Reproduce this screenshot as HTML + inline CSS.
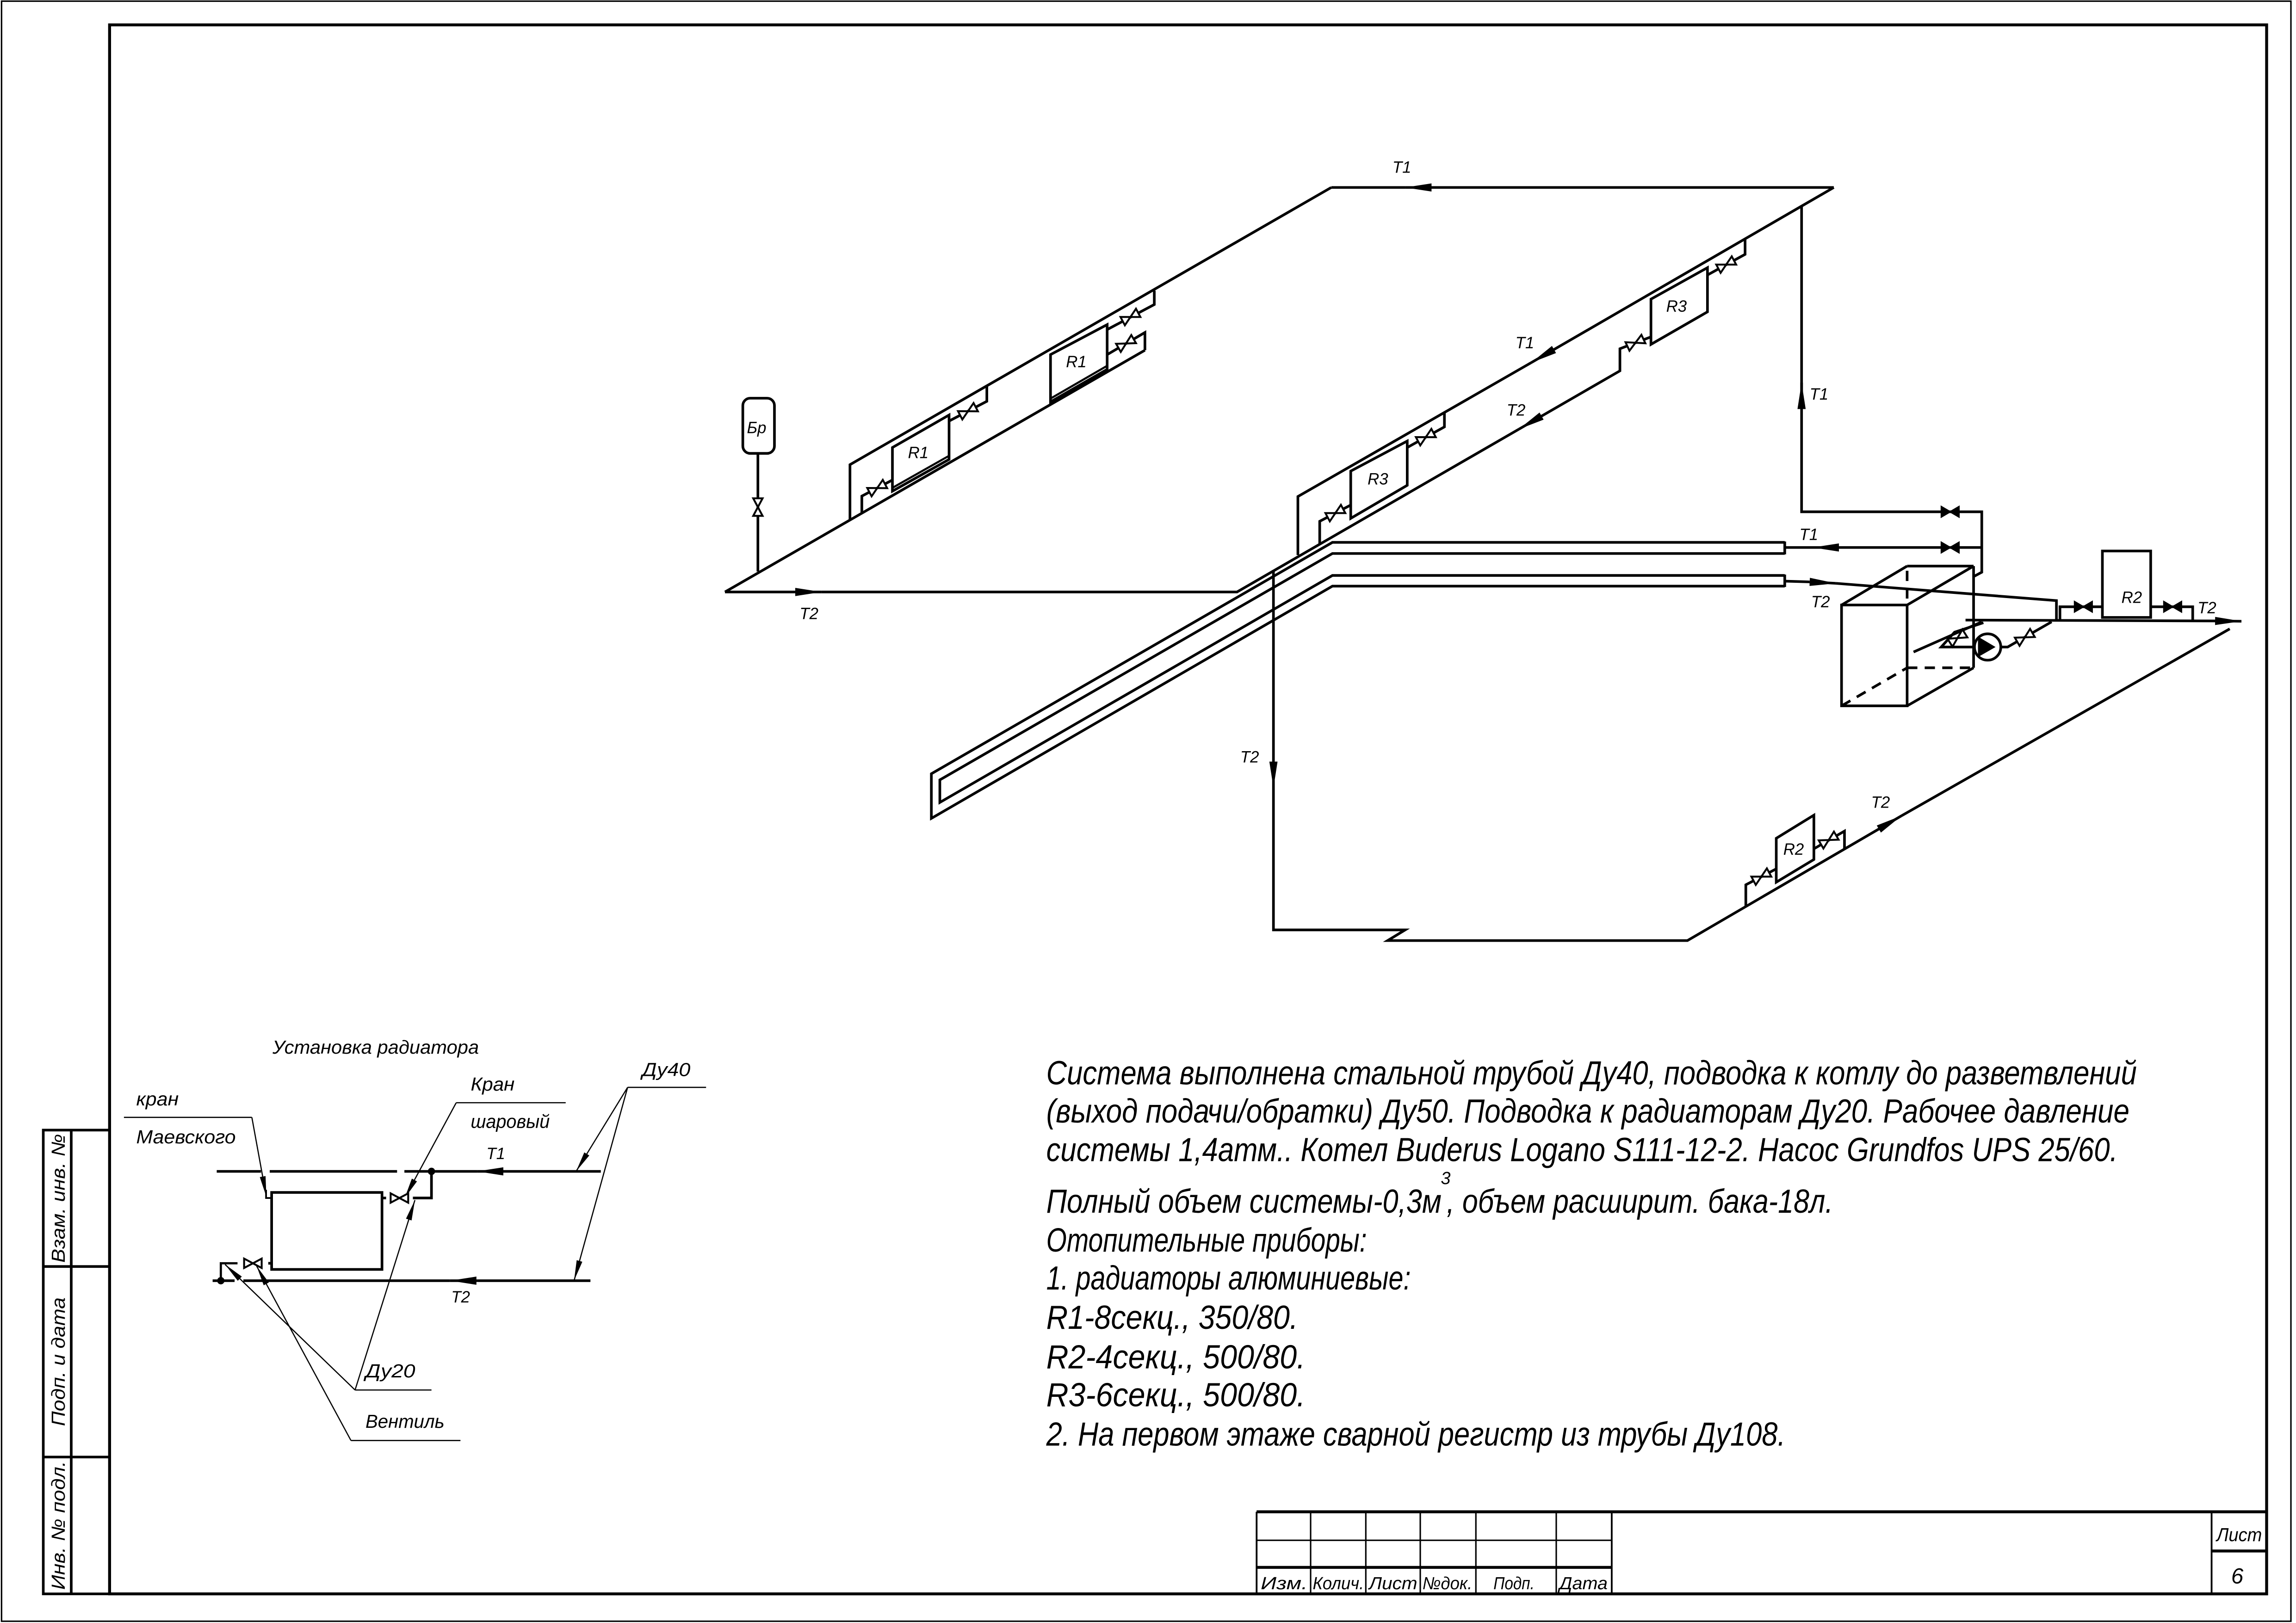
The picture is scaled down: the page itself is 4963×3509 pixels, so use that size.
<!DOCTYPE html>
<html><head><meta charset="utf-8">
<style>
html,body{margin:0;padding:0;background:#fff;}
svg{display:block;}
text{font-family:"Liberation Sans","DejaVu Sans",sans-serif;font-style:italic;fill:#000;}
</style></head>
<body>
<svg xmlns="http://www.w3.org/2000/svg" width="4963" height="3509" viewBox="0 0 1568 1109">
<defs>
<marker id="a" markerUnits="userSpaceOnUse" markerWidth="18" markerHeight="8" refX="18" refY="4" orient="auto"><path d="M0,1.2 L18,4 L0,6.8 Z" fill="#000"/></marker>
<marker id="s" markerUnits="userSpaceOnUse" markerWidth="14" markerHeight="6" refX="14" refY="3" orient="auto"><path d="M0,1 L14,3 L0,5 Z" fill="#000"/></marker>
<g id="vo"><path d="M-6,-3.2 L6,3.2 L6,-3.2 L-6,3.2 Z" fill="#fff" stroke="#000" stroke-width="1.3"/></g>
<g id="vf"><path d="M-6,-3.5 L6,3.5 L6,-3.5 L-6,3.5 Z" fill="#000" stroke="#000" stroke-width="1"/></g>
</defs>
<rect x="0" y="0" width="1568" height="1109" fill="#fff"/>
<rect x="0.8" y="0.8" width="1564" height="1107" fill="none" stroke="#000" stroke-width="1"/>
<rect x="74.6" y="17" width="1473.6" height="1072.1" fill="none" stroke="#000" stroke-width="2"/>
<g stroke="#000" stroke-width="1.8" fill="none">
<rect x="29.3" y="772.2" width="45.3" height="316.9"/>
<line x1="48.4" y1="772.2" x2="48.4" y2="1089.1"/>
<line x1="29.3" y1="865.4" x2="74.6" y2="865.4"/>
<line x1="29.3" y1="995.6" x2="74.6" y2="995.6"/>
</g>
<text transform="translate(44,818.8) rotate(-90)" font-size="13" text-anchor="middle" textLength="88" lengthAdjust="spacingAndGlyphs">Взам. инв. №</text>
<text transform="translate(44,930.5) rotate(-90)" font-size="13" text-anchor="middle" textLength="88" lengthAdjust="spacingAndGlyphs">Подп. и дата</text>
<text transform="translate(44,1042.3) rotate(-90)" font-size="13" text-anchor="middle" textLength="88" lengthAdjust="spacingAndGlyphs">Инв. № подл.</text>
<g stroke="#000" fill="none">
<line x1="858.2" y1="1033" x2="1548.2" y2="1033" stroke-width="2"/>
<line x1="858.2" y1="1033" x2="858.2" y2="1089" stroke-width="1.2"/>
<line x1="858.2" y1="1052.5" x2="1100.8" y2="1052.5" stroke-width="1"/>
<line x1="858.2" y1="1071" x2="1100.8" y2="1071" stroke-width="2"/>
<line x1="895.1" y1="1033" x2="895.1" y2="1089" stroke-width="1"/>
<line x1="932.8" y1="1033" x2="932.8" y2="1089" stroke-width="1"/>
<line x1="970" y1="1033" x2="970" y2="1089" stroke-width="1"/>
<line x1="1008" y1="1033" x2="1008" y2="1089" stroke-width="1"/>
<line x1="1062.9" y1="1033" x2="1062.9" y2="1089" stroke-width="1"/>
<line x1="1100.8" y1="1033" x2="1100.8" y2="1089" stroke-width="1.2"/>
<line x1="1510.6" y1="1033" x2="1510.6" y2="1089" stroke-width="1.2"/>
<line x1="1510.6" y1="1059.8" x2="1548.2" y2="1059.8" stroke-width="2"/>
</g>
<g font-size="12">
<text x="861" y="1086" textLength="32" lengthAdjust="spacingAndGlyphs">Изм.</text>
<text x="896.5" y="1086" textLength="35" lengthAdjust="spacingAndGlyphs">Колич.</text>
<text x="935" y="1086" textLength="33" lengthAdjust="spacingAndGlyphs">Лист</text>
<text x="971.5" y="1086" textLength="34" lengthAdjust="spacingAndGlyphs">№док.</text>
<text x="1020" y="1086" textLength="28" lengthAdjust="spacingAndGlyphs">Подп.</text>
<text x="1065" y="1086" textLength="33" lengthAdjust="spacingAndGlyphs">Дата</text>
<text x="1514" y="1053" font-size="13" textLength="31" lengthAdjust="spacingAndGlyphs">Лист</text>
<text x="1524" y="1082" font-size="15">6</text>
</g>

<g stroke="#000" stroke-width="1.8" fill="none" stroke-linejoin="miter">
<line x1="1252.5" y1="128.1" x2="977" y2="128.1"/>
<line x1="977" y1="128.1" x2="959.7" y2="128.1" marker-end="url(#a)"/>
<line x1="959.7" y1="128.1" x2="909.2" y2="128.1"/>
<polyline points="909.2,128.1 580.4,317.5 580.4,355"/>
<line x1="495" y1="404.5" x2="781.9" y2="239.3"/>
<line x1="495" y1="404.5" x2="543" y2="404.5"/>
<line x1="543" y1="404.5" x2="561" y2="404.5" marker-end="url(#a)"/>
<polyline points="561,404.5 844.8,404.5 1037.3,293.3"/>
<line x1="1050.3" y1="285.8" x2="1037.3" y2="293.3" marker-end="url(#a)"/>
<polyline points="1050.3,285.8 1106.4,253.4 1106.4,238.3 1127.6,230.2"/>
<polygon points="609.4,305.8 648.1,283.6 648.1,313.9 609.4,335.6"/>
<line x1="610" y1="333" x2="648" y2="311.5" stroke-width="1.4"/>
<polyline points="673.9,263.5 673.9,274.2 648.1,287.7"/>
<polyline points="609.4,328 588.5,339 588.5,350.6"/>
<polygon points="717.4,242.3 756.1,221.8 756.1,252.4 717.4,274.6"/>
<line x1="718" y1="272" x2="756" y2="250" stroke-width="1.4"/>
<polyline points="788.3,198.6 788.3,208.1 756.1,225.2"/>
<polyline points="756.1,242.3 781.9,227.2 781.9,239.3"/>
<rect x="507.2" y="272.1" width="21.6" height="37.7" rx="5"/>
<line x1="517.5" y1="309.8" x2="517.5" y2="390.5"/>
<line x1="1252.5" y1="128.1" x2="1058.8" y2="240.3"/>
<line x1="1058.8" y1="240.3" x2="1045.8" y2="247.8" marker-end="url(#a)"/>
<polyline points="1045.8,247.8 886.4,339.3 886.4,379.3"/>
<polygon points="1127.6,204.4 1166.2,182.9 1166.2,213.1 1127.6,235.3"/>
<polyline points="1191.9,163 1191.9,173.8 1166.2,187.9"/>
<polygon points="922.5,321.9 961.1,301.4 961.1,331.6 922.5,354.2"/>
<polyline points="986.5,281.6 986.5,291.7 961.1,305.8"/>
<polyline points="922.5,345.1 901.3,356.2 901.3,371.8"/>
<line x1="1230.5" y1="140.6" x2="1230.5" y2="279"/>
<line x1="1230.5" y1="279" x2="1230.5" y2="261.5" marker-end="url(#a)"/>
<polyline points="1230.5,261.5 1230.5,349.7 1353.6,349.7 1353.6,391 1348,394"/>
<polyline points="1219,370.6 910,370.6 636,528.7 636,559.2 910,400.5 1219,400.5"/>
<polyline points="1219,378.2 910,378.2 641.8,532.9 641.8,548.3 910,393.2 1219,393.2"/>
<line x1="1219" y1="370" x2="1219" y2="378.8"/>
<line x1="1219" y1="392.6" x2="1219" y2="401.1"/>
<line x1="1219.4" y1="374.1" x2="1238" y2="374.1"/>
<line x1="1255" y1="374.1" x2="1238" y2="374.1" marker-end="url(#a)"/>
<line x1="1255" y1="374.1" x2="1353.6" y2="374.1"/>
<line x1="1219.4" y1="397.1" x2="1236" y2="397.6"/>
<line x1="1236" y1="397.6" x2="1254" y2="398.6" marker-end="url(#a)"/>
<polyline points="1254,398.6 1404.6,410.4 1404.6,423.7"/>
<line x1="1342.5" y1="423.7" x2="1512" y2="424.3"/>
<line x1="1512" y1="424.3" x2="1531" y2="424.5" marker-end="url(#a)"/>
<line x1="1307" y1="445.5" x2="1353.6" y2="424.9"/>
<rect x="1436" y="376.5" width="33" height="45.4"/>
<polyline points="1407,423.7 1407,414.6 1436,414.6"/>
<polyline points="1469,414.6 1497.7,414.6 1497.7,423.7"/>
<rect x="1257.8" y="413.4" width="44.8" height="68.9"/>
<line x1="1257.8" y1="413.4" x2="1302.6" y2="386.8"/>
<line x1="1302.6" y1="413.4" x2="1348" y2="386.8"/>
<line x1="1302.6" y1="386.8" x2="1348" y2="386.8"/>
<line x1="1348" y1="386.8" x2="1348" y2="456.3"/>
<line x1="1302.6" y1="482.3" x2="1348" y2="456.3"/>
<polyline points="1350,442.1 1325.9,442.1 1335,432 1354.7,425.5"/>
<polyline points="1366,442.1 1371.3,442.1 1401.3,424.9"/>
<line x1="869.7" y1="390" x2="869.7" y2="521"/>
<line x1="869.7" y1="521" x2="869.7" y2="538.4" marker-end="url(#a)"/>
<polyline points="869.7,538.4 869.7,635.4 959.7,635.4 947.7,642.7 1152.5,642.7 1285.8,565"/>
<line x1="1285.8" y1="565" x2="1298.8" y2="557.4" marker-end="url(#a)"/>
<line x1="1298.8" y1="557.4" x2="1523" y2="429.7"/>
<polygon points="1213.2,572.8 1238.9,557 1238.9,587.3 1213.2,602.8"/>
<polyline points="1238.9,580 1259.8,567.9 1259.8,580.1"/>
<polyline points="1213.2,593.7 1192.4,604.6 1192.4,619.8"/>
</g>
<g stroke="#000" stroke-width="1.8" fill="none" stroke-dasharray="7,5">
<line x1="1302.6" y1="390" x2="1302.6" y2="413"/>
<line x1="1302.6" y1="456.3" x2="1348" y2="456.3"/>
<line x1="1257.8" y1="482.3" x2="1302.6" y2="456.3"/>
</g>
<circle cx="1357.6" cy="442.1" r="9" fill="#fff" stroke="#000" stroke-width="1.8"/>
<path d="M1351,435 L1351,449 L1363,442.1 Z" fill="#000"/>
<use href="#vo" transform="translate(661,281) rotate(-27.6)"/>
<use href="#vo" transform="translate(599,333.5) rotate(-27.7)"/>
<use href="#vo" transform="translate(772,216.6) rotate(-28)"/>
<use href="#vo" transform="translate(769,234.7) rotate(-30)"/>
<use href="#vo" transform="translate(1179,180.8) rotate(-28)"/>
<use href="#vo" transform="translate(1117,234.2) rotate(-25)"/>
<use href="#vo" transform="translate(973.8,298.7) rotate(-28)"/>
<use href="#vo" transform="translate(912,350.6) rotate(-28)"/>
<use href="#vo" transform="translate(1249,574) rotate(-30)"/>
<use href="#vo" transform="translate(1203,599) rotate(-28)"/>
<use href="#vo" transform="translate(1337,436) rotate(-32)"/>
<use href="#vo" transform="translate(1383,435.5) rotate(-30)"/>
<use href="#vo" transform="translate(517.5,346.5) rotate(90)"/>
<use href="#vf" transform="translate(1332,349.7)"/>
<use href="#vf" transform="translate(1332,374.1)"/>
<use href="#vf" transform="translate(1423,414.6)"/>
<use href="#vf" transform="translate(1484,414.6)"/>
<g font-size="11">
<text x="951" y="118">T1</text>
<text x="1035" y="238">T1</text>
<text x="1029" y="284">T2</text>
<text x="1236" y="273">T1</text>
<text x="1229" y="369">T1</text>
<text x="1237" y="415">T2</text>
<text x="1501" y="419">T2</text>
<text x="546" y="423">T2</text>
<text x="847" y="521">T2</text>
<text x="1278" y="552">T2</text>
<text x="620" y="313">R1</text>
<text x="728" y="251">R1</text>
<text x="1138" y="213">R3</text>
<text x="934" y="331">R3</text>
<text x="1449" y="412">R2</text>
<text x="1218" y="584">R2</text>
<text x="510" y="296" font-size="11">Бр</text>
</g>

<g stroke="#000" fill="none">
<line x1="147.8" y1="800.4" x2="178" y2="800.4" stroke-width="1.8"/>
<line x1="184" y1="800.4" x2="271" y2="800.4" stroke-width="1.8"/>
<line x1="276" y1="800.4" x2="325.6" y2="800.4" stroke-width="1.8"/>
<line x1="342.5" y1="800.4" x2="325.6" y2="800.4" stroke-width="1.8" marker-end="url(#a)"/>
<line x1="342.5" y1="800.4" x2="410.2" y2="800.4" stroke-width="1.8"/>
<rect x="185.3" y="814.8" width="75.4" height="52.6" stroke-width="1.8"/>
<polyline points="181.5,813 181.5,818.6 185.3,818.6" stroke-width="1.2"/>
<polyline points="281.8,818.6 294.5,818.6 294.5,800.4" stroke-width="1.8"/>
<line x1="260.7" y1="818.6" x2="263.5" y2="818.6" stroke-width="1.8"/>
<line x1="145" y1="875.1" x2="160" y2="875.1" stroke-width="1.8"/>
<line x1="166" y1="875.1" x2="307.2" y2="875.1" stroke-width="1.8"/>
<line x1="325.6" y1="875.1" x2="307.2" y2="875.1" stroke-width="1.8" marker-end="url(#a)"/>
<line x1="325.6" y1="875.1" x2="403.1" y2="875.1" stroke-width="1.8"/>
<polyline points="150.6,875.1 150.6,863.2 162,863.2" stroke-width="1.5"/>
<line x1="183" y1="863.2" x2="185.3" y2="863.2" stroke-width="1.8"/>
<g stroke-width="0.8">
<line x1="84.4" y1="763.5" x2="171.8" y2="763.5"/>
<line x1="171.8" y1="763.5" x2="181.7" y2="817.7" marker-end="url(#s)"/>
<line x1="311.4" y1="753.5" x2="386.2" y2="753.5"/>
<line x1="311.4" y1="753.5" x2="276.2" y2="818.6" marker-end="url(#s)"/>
<line x1="428.5" y1="743" x2="482.1" y2="743"/>
<line x1="428.5" y1="743" x2="393.3" y2="800.4" marker-end="url(#s)"/>
<line x1="428.5" y1="743" x2="391.9" y2="875.1" marker-end="url(#s)"/>
<line x1="242.3" y1="949.8" x2="294.5" y2="949.8"/>
<line x1="242.3" y1="949.8" x2="283.2" y2="820" marker-end="url(#s)"/>
<line x1="242.3" y1="949.8" x2="153.5" y2="864" marker-end="url(#s)"/>
<line x1="239.5" y1="984.3" x2="314.3" y2="984.3"/>
<line x1="239.5" y1="984.3" x2="175" y2="865" marker-end="url(#s)"/>
</g>
</g>
<use href="#vo" transform="translate(272.6,818.6)"/>
<use href="#vo" transform="translate(172.5,863.2)"/>
<circle cx="294.5" cy="800.4" r="2.5" fill="#000"/>
<circle cx="150.6" cy="875.1" r="2.5" fill="#000"/>
<g font-size="13">
<text x="185.9" y="720" textLength="141" lengthAdjust="spacingAndGlyphs">Установка радиатора</text>
<text x="92.8" y="755.4" textLength="29" lengthAdjust="spacingAndGlyphs">кран</text>
<text x="92.8" y="781.3" textLength="68" lengthAdjust="spacingAndGlyphs">Маевского</text>
<text x="321.3" y="745.3" textLength="30" lengthAdjust="spacingAndGlyphs">Кран</text>
<text x="321.3" y="770.7" textLength="54" lengthAdjust="spacingAndGlyphs">шаровый</text>
<text x="438.4" y="735.3" textLength="33" lengthAdjust="spacingAndGlyphs">Ду40</text>
<text x="249.4" y="941.2" textLength="34" lengthAdjust="spacingAndGlyphs">Ду20</text>
<text x="249.4" y="975.6" textLength="54" lengthAdjust="spacingAndGlyphs">Вентиль</text>
</g>
<g font-size="11">
<text x="332" y="792">T1</text>
<text x="308" y="890">T2</text>
</g>

<g font-size="23">
<text x="714.5" y="741" textLength="745" lengthAdjust="spacingAndGlyphs">Система выполнена стальной трубой Ду40, подводка к котлу до разветвлений</text>
<text x="714.5" y="767" textLength="740" lengthAdjust="spacingAndGlyphs">(выход подачи/обратки) Ду50. Подводка к радиаторам Ду20. Рабочее давление</text>
<text x="714.5" y="793.4" textLength="732" lengthAdjust="spacingAndGlyphs">системы 1,4атм.. Котел Buderus Logano S111-12-2. Насос Grundfos UPS 25/60.</text>
<text x="714.5" y="828.6" textLength="270" lengthAdjust="spacingAndGlyphs">Полный объем системы-0,3м</text>
<text x="984" y="809" font-size="12">3</text>
<text x="988" y="828.6" textLength="264" lengthAdjust="spacingAndGlyphs">, объем расширит. бака-18л.</text>
<text x="714.5" y="855.2" textLength="219" lengthAdjust="spacingAndGlyphs">Отопительные приборы:</text>
<text x="714.5" y="881.1" textLength="249" lengthAdjust="spacingAndGlyphs">1. радиаторы алюминиевые:</text>
<text x="714.5" y="908" textLength="172" lengthAdjust="spacingAndGlyphs">R1-8секц., 350/80.</text>
<text x="714.5" y="935" textLength="177" lengthAdjust="spacingAndGlyphs">R2-4секц., 500/80.</text>
<text x="714.5" y="961" textLength="177" lengthAdjust="spacingAndGlyphs">R3-6секц., 500/80.</text>
<text x="714.5" y="987.8" textLength="505" lengthAdjust="spacingAndGlyphs">2. На первом этаже сварной регистр из трубы Ду108.</text>
</g>
</svg>
</body></html>
